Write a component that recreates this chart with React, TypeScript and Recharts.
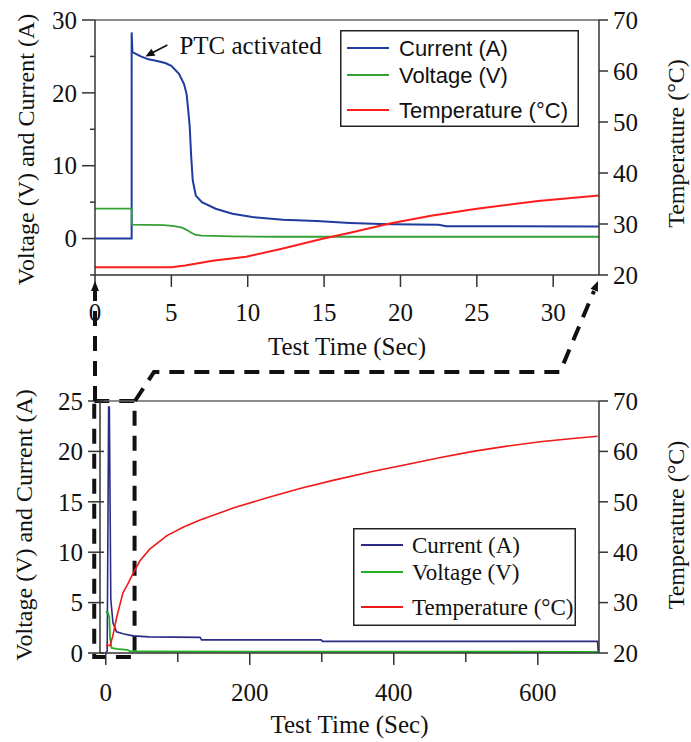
import React from 'react';
import { LineChart, Line, XAxis, YAxis, ReferenceArea, ReferenceDot, ReferenceLine, Legend } from 'recharts';

const SERIF = "'Liberation Serif', 'Times New Roman', Times, serif";
const SANS = "'Liberation Sans', Arial, Helvetica, sans-serif";

// ---------- top panel (0-33 s) ----------
const topCurrentTime = [0, 2.4, 2.4, 2.45, 3, 3.5, 4, 4.6, 5, 5.5, 5.83, 6.0, 6.1, 6.2, 6.3, 6.4, 6.6, 7.0, 7.9, 9.0, 10.3, 12.3, 14.5, 16.7, 18.7, 19.5, 22.5, 23, 33];
const topCurrentValue = [0, 0, 28.3, 25.6, 25.0, 24.6, 24.4, 24.1, 23.7, 22.6, 21.2, 19.8, 17.7, 15.4, 11.2, 8.0, 5.9, 5.0, 4.1, 3.4, 2.95, 2.6, 2.4, 2.15, 2.0, 1.95, 1.9, 1.7, 1.65];
const topVoltageTime = [0, 2.4, 2.4, 4.5, 5.2, 5.7, 6.0, 6.3, 6.6, 7.0, 9.0, 12, 33];
const topVoltageValue = [4.1, 4.1, 1.9, 1.85, 1.7, 1.5, 1.2, 0.8, 0.5, 0.4, 0.3, 0.25, 0.25];
const topTempTime = [0, 5, 5.9, 7.7, 9.9, 12.3, 14.9, 16.7, 19.3, 22, 25, 29, 33];
const topTempValue = [21.5, 21.5, 21.85, 22.8, 23.6, 25.2, 27.1, 28.3, 30.1, 31.6, 33.0, 34.5, 35.6];

const topXTicks = [0, 5, 10, 15, 20, 25, 30];
const topLeftTicks = [-5, 0, 5, 10, 15, 20, 25, 30];
const tempTicks = [20, 30, 40, 50, 60, 70];

// ---------- bottom panel (0-685 s) ----------
const botCurrentTime = [0, 2, 4, 5, 7, 10, 15, 24, 38, 60, 131, 133, 299, 301, 683, 684];
const botCurrentValue = [0, 0.2, 24.4, 24.4, 5.3, 3.0, 2.1, 1.9, 1.7, 1.6, 1.55, 1.3, 1.3, 1.15, 1.15, 0];
const botVoltageTime = [0, 3, 5, 6, 8, 15, 30, 35, 684];
const botVoltageValue = [4.1, 4.0, 3.5, 1.5, 0.5, 0.4, 0.3, 0.15, 0.12];
const botTempTime = [0, 6, 10, 15, 20, 24, 30, 38, 47, 61, 85, 108, 131, 178, 224, 271, 317, 370, 418, 465, 510, 555, 603, 645, 683];
const botTempValue = [21.5, 21.5, 23.5, 27, 29.8, 32, 33.5, 35.8, 38.2, 40.6, 43.3, 45.0, 46.4, 48.8, 50.8, 52.7, 54.3, 56.0, 57.4, 58.8, 60.0, 61.0, 61.9, 62.5, 63.0];

const botXTicks = [0, 100, 200, 300, 400, 500, 600];
const botLeftTicks = [0, 5, 10, 15, 20, 25];

const SERIES_NAMES = ['Current (A)', 'Voltage (V)', 'Temperature (°C)'];
const TOP_COLORS = ['#1f3ba0', '#34a034', '#ff1c1c'];
const BOT_COLORS = ['#2b2b86', '#22b022', '#f01818'];

const zip = (ts: number[], vs: number[]) => ts.map((t, i) => ({ t, v: vs[i] }));

const AX = '#333';

function TopLeftTick(props: any) {
  const { x, y, payload } = props;
  const v = payload.value;
  const major = v % 10 === 0;
  const len = major ? 13 : 5;
  return (
    <g>
      <line x1={x - len} y1={y} x2={x} y2={y} stroke={AX} strokeWidth={1.5} />
      {major && (
        <text x={x - 18} y={y} dy="0.35em" textAnchor="end" fontFamily={SERIF} fontSize={25} fill="#111">{v}</text>
      )}
    </g>
  );
}

function BotLeftTick(props: any) {
  const { x, y, payload } = props;
  return (
    <g>
      <line x1={x - 12} y1={y} x2={x + 4} y2={y} stroke={AX} strokeWidth={1.5} />
      <text x={x - 17} y={y} dy="0.35em" textAnchor="end" fontFamily={SERIF} fontSize={25} fill="#111">{payload.value}</text>
    </g>
  );
}

function RightTick(props: any) {
  const { x, y, payload } = props;
  return (
    <g>
      <line x1={x} y1={y} x2={x + 9} y2={y} stroke={AX} strokeWidth={1.5} />
      <text x={x + 14} y={y} dy="0.35em" textAnchor="start" fontFamily={SERIF} fontSize={25} fill="#111">{payload.value}</text>
    </g>
  );
}

function TopXTick(props: any) {
  const { x, y, payload } = props;
  return (
    <g>
      <line x1={x} y1={y} x2={x} y2={y + 12} stroke={AX} strokeWidth={1.5} />
      <text x={x} y={y + 37} dy="0.35em" textAnchor="middle" fontFamily={SERIF} fontSize={25} fill="#111">{payload.value}</text>
    </g>
  );
}

function BotXTick(props: any) {
  const { x, y, payload } = props;
  const major = payload.value % 200 === 0;
  return (
    <g>
      <line x1={x} y1={y} x2={x} y2={y + (major ? 12 : 9)} stroke={AX} strokeWidth={1.5} />
      {major && (
        <text x={x} y={y + 39} dy="0.35em" textAnchor="middle" fontFamily={SERIF} fontSize={25} fill="#111">{payload.value}</text>
      )}
    </g>
  );
}

const xTitle = (offset: number) => (p: any) => {
  const vb = p.viewBox || {};
  return (
    <text x={vb.x + vb.width / 2} y={vb.y + offset} textAnchor="middle" fontFamily={SERIF} fontSize={25} fill="#111">
      Test Time (Sec)
    </text>
  );
};

const yTitle = (text: string, dxFromAxisX: number, dyCenter: number) => (p: any) => {
  const vb = p.viewBox || {};
  const cx = vb.x + dxFromAxisX;
  const cy = vb.y + vb.height / 2 + dyCenter;
  return (
    <text x={cx} y={cy} dy="0.35em" textAnchor="middle" fontFamily={SERIF} fontSize={24} fill="#111" transform={`rotate(-90, ${cx}, ${cy})`}>
      {text}
    </text>
  );
};

function LegendBox(props: { w: number; h: number; rows: number[]; colors: string[]; font: string; size: number; lineW: number; lineX: number; lineLen: number; textX: number }) {
  const { w, h, rows, colors, font, size, lineW, lineX, lineLen, textX } = props;
  return (
    <svg width={w} height={h} style={{ display: 'block', overflow: 'visible' }}>
      <rect x={0.75} y={0.75} width={w - 1.5} height={h - 1.5} fill="#fff" stroke="#222" strokeWidth={1.5} />
      {SERIES_NAMES.map((name, i) => (
        <g key={name}>
          <line x1={lineX} x2={lineX + lineLen} y1={rows[i]} y2={rows[i]} stroke={colors[i]} strokeWidth={lineW} />
          <text x={textX} y={rows[i]} dy="0.35em" fontFamily={font} fontSize={size} fill="#111">{name}</text>
        </g>
      ))}
    </svg>
  );
}

function PtcNote(props: any) {
  const { cx, cy } = props;
  if (cx == null || cy == null) return null;
  return (
    <g>
      <line x1={cx + 22} y1={cy - 11.5} x2={cx + 7} y2={cy - 3.7} stroke="#111" strokeWidth={1.8} />
      <polygon points={`${cx},${cy} ${cx + 9.9},${cy - 0.7} ${cx + 6.1},${cy - 7.7}`} fill="#111" />
      <text x={cx + 34} y={cy - 11} dy="0.35em" fontFamily={SERIF} fontSize={25} fill="#111">PTC activated</text>
    </g>
  );
}

function TopChart() {
  return (
    <LineChart width={691} height={371} margin={{ top: 20, right: 0, bottom: 0, left: 0 }}>
      <XAxis dataKey="t" type="number" domain={[0, 33]} ticks={topXTicks} interval={0} allowDataOverflow
        tickSize={0} tickMargin={0} tickLine={false} tick={(p: any) => <TopXTick {...p} />} height={96}
        axisLine={{ stroke: AX, strokeWidth: 1.5 }} label={xTitle(80)} />
      <YAxis yAxisId="left" type="number" domain={[-5, 30]} ticks={topLeftTicks} interval={0} allowDataOverflow width={95}
        tickSize={0} tickMargin={0} tickLine={false} tick={(p: any) => <TopLeftTick {...p} />}
        axisLine={{ stroke: AX, strokeWidth: 1.5 }} label={yTitle('Voltage (V) and Current (A)', 26, 2)} />
      <YAxis yAxisId="right" orientation="right" type="number" domain={[20, 70]} ticks={tempTicks} interval={0} allowDataOverflow width={92}
        tickSize={0} tickMargin={0} tickLine={false} tick={(p: any) => <RightTick {...p} />}
        axisLine={{ stroke: AX, strokeWidth: 1.5 }} label={yTitle('Temperature (°C)', 77, -4)} />
      <ReferenceLine yAxisId="left" y={30} stroke="#666" strokeWidth={1.5} />
      <Line yAxisId="left" data={zip(topCurrentTime, topCurrentValue)} dataKey="v" name={SERIES_NAMES[0]} type="linear"
        stroke={TOP_COLORS[0]} strokeWidth={2} dot={false} activeDot={false} isAnimationActive={false} />
      <Line yAxisId="left" data={zip(topVoltageTime, topVoltageValue)} dataKey="v" name={SERIES_NAMES[1]} type="linear"
        stroke={TOP_COLORS[1]} strokeWidth={1.8} dot={false} activeDot={false} isAnimationActive={false} />
      <Line yAxisId="right" data={zip(topTempTime, topTempValue)} dataKey="v" name={SERIES_NAMES[2]} type="linear"
        stroke={TOP_COLORS[2]} strokeWidth={2} dot={false} activeDot={false} isAnimationActive={false} />
      <ReferenceDot yAxisId="left" x={3.3} y={25} r={0} shape={(p: any) => <PtcNote {...p} />} />
      <Legend layout="vertical" align="center" verticalAlign="middle"
        wrapperStyle={{ left: 340, top: 30, width: 239, height: 97 }}
        content={() => (
          <LegendBox w={239} h={97} rows={[18, 45, 80]} colors={TOP_COLORS} font={SANS} size={22}
            lineW={2} lineX={7} lineLen={42} textX={59} />
        )} />
    </LineChart>
  );
}

function BottomChart() {
  return (
    <LineChart width={691} height={371} margin={{ top: 30, right: 0, bottom: 0, left: 0 }}>
      <XAxis dataKey="t" type="number" domain={[-8, 685]} ticks={botXTicks} interval={0} allowDataOverflow
        tickSize={0} tickMargin={0} tickLine={false} tick={(p: any) => <BotXTick {...p} />} height={89}
        axisLine={{ stroke: AX, strokeWidth: 1.5 }} label={xTitle(80)} />
      <YAxis yAxisId="left" type="number" domain={[0, 25]} ticks={botLeftTicks} interval={0} allowDataOverflow width={100}
        tickSize={0} tickMargin={0} tickLine={false} tick={(p: any) => <BotLeftTick {...p} />}
        axisLine={{ stroke: AX, strokeWidth: 1.5 }} label={yTitle('Voltage (V) and Current (A)', 24, -2)} />
      <YAxis yAxisId="right" orientation="right" type="number" domain={[20, 70]} ticks={tempTicks} interval={0} allowDataOverflow width={92}
        tickSize={0} tickMargin={0} tickLine={false} tick={(p: any) => <RightTick {...p} />}
        axisLine={{ stroke: AX, strokeWidth: 1.5 }} label={yTitle('Temperature (°C)', 77, -2)} />
      <ReferenceLine yAxisId="left" y={25} stroke="#666" strokeWidth={1.5} />
      <Line yAxisId="left" data={zip(botCurrentTime, botCurrentValue)} dataKey="v" name={SERIES_NAMES[0]} type="linear"
        stroke={BOT_COLORS[0]} strokeWidth={1.6} dot={false} activeDot={false} isAnimationActive={false} />
      <Line yAxisId="left" data={zip(botVoltageTime, botVoltageValue)} dataKey="v" name={SERIES_NAMES[1]} type="linear"
        stroke={BOT_COLORS[1]} strokeWidth={1.8} dot={false} activeDot={false} isAnimationActive={false} />
      <Line yAxisId="right" data={zip(botTempTime, botTempValue)} dataKey="v" name={SERIES_NAMES[2]} type="linear"
        stroke={BOT_COLORS[2]} strokeWidth={1.6} dot={false} activeDot={false} isAnimationActive={false} />
      <ReferenceArea yAxisId="left" x1={-16} x2={40} y1={-0.4} y2={25} ifOverflow="visible"
        fill="none" stroke="#111" strokeWidth={4} strokeDasharray="15 10" />
      <Legend layout="vertical" align="center" verticalAlign="middle"
        wrapperStyle={{ left: 353, top: 157, width: 223, height: 98 }}
        content={() => (
          <LegendBox w={223} h={98} rows={[17, 44, 79]} colors={BOT_COLORS} font={SERIF} size={23}
            lineW={2} lineX={8} lineLen={42} textX={59} />
        )} />
    </LineChart>
  );
}

export default function App() {
  const dash = { stroke: '#111', strokeWidth: 4, strokeDasharray: '15 10', fill: 'none' } as const;
  return (
    <div style={{ position: 'absolute', left: 0, top: 0, width: 691, height: 742, background: '#fff', fontFamily: SERIF }}>
      <div style={{ position: 'absolute', left: 0, top: 0 }}>
        <TopChart />
      </div>
      <div style={{ position: 'absolute', left: 0, top: 371 }}>
        <BottomChart />
      </div>
      <svg width={691} height={742} style={{ position: 'absolute', left: 0, top: 0, pointerEvents: 'none' }}>
        <polyline points="95,401 95,290" {...dash} />
        <polygon points="95,281 91,291 99,291" fill="#111" />
        <polyline points="135,401 154,372 560,372 594,291" {...dash} />
        <polygon points="598,281 597.9,291.7 590.5,288.7" fill="#111" />
      </svg>
    </div>
  );
}
